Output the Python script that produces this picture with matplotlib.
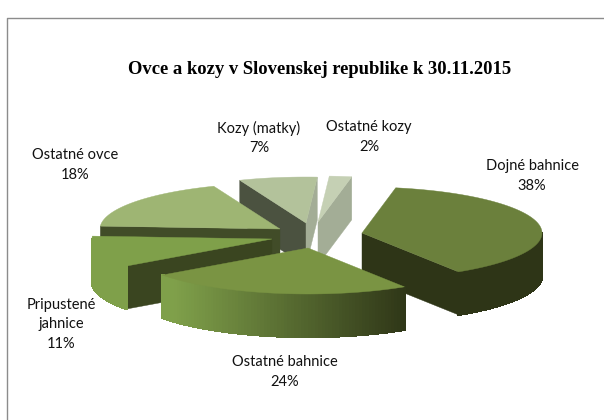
import numpy as np
import matplotlib
matplotlib.use("Agg")
import matplotlib.pyplot as plt
from matplotlib.collections import PolyCollection

title = "Ovce a kozy v Slovenskej republike k 30.11.2015"
categories = ["Dojné bahnice", "Ostatné bahnice", "Pripustené\njahnice",
              "Ostatné ovce", "Kozy (matky)", "Ostatné kozy"]
values = [38, 24, 11, 18, 7, 2]

# styles / geometry
top_colors = ["#6b803c", "#7a9443", "#7fa04a", "#9eb573", "#b3c29b", "#c5d0b4"]
wall_colors = ["#2e3517", "#3a4520", "#3a4520", "#414c28", "#4b5240", "#a3ad96"]
wall2_colors = ["#2e3517", "#3a4520", "#3a4520", "#414c28", "#a3ad96", "#a3ad96"]
offsets = [(44, -2), (-10, 13), (-46, 4), (-38, -6), (-12, -12), (0, -13)]
label_xy = [(532, 176), (285, 372), (61, 324), (75, 165), (259, 138), (369, 137)]
CX, CY, RX, RY, DEPTH = 318, 235, 180, 46, 43
START = 79.2
draw_order = [5, 4, 3, 2, 0, 1]

fig = plt.figure(figsize=(6.04, 4.20), dpi=100)
ax = fig.add_axes([0, 0, 1, 1])
ax.set_xlim(0, 604)
ax.set_ylim(420, 0)
ax.axis("off")
ax.plot([7, 7, 604], [420, 18, 18], color="#8c8c8c", lw=1.0)

def mix(a, b, f):
    a, b = np.array(matplotlib.colors.to_rgb(a)), np.array(matplotlib.colors.to_rgb(b))
    return tuple(a + (b - a) * f)

def P(cx, cy, t):
    r = np.radians(t)
    return cx + RX * np.cos(r), cy - RY * np.sin(r)

spans = np.array(values) / sum(values) * 360
starts = START - np.concatenate([[0], np.cumsum(spans)[:-1]])
light = ("#7fa04a", "#2e3517")

for i in draw_order:
    ta, tb = starts[i], starts[i] - spans[i]
    cx, cy = CX + offsets[i][0], CY + offsets[i][1]
    ts = np.linspace(ta, tb, 80)
    rim = np.array([P(cx, cy, t) for t in ts])
    if np.sin(np.radians(ta + 90)) < 0:
        p = P(cx, cy, ta)
        ax.fill([cx, p[0], p[0], cx], [cy, p[1], p[1] + DEPTH, cy + DEPTH],
                color=wall_colors[i], lw=0.3)
    if np.sin(np.radians(tb - 90)) < 0:
        p = P(cx, cy, tb)
        ax.fill([cx, p[0], p[0], cx], [cy, p[1], p[1] + DEPTH, cy + DEPTH],
                color=wall2_colors[i], lw=0.3)
    quads, cols = [], []
    for a, b in zip(ts[:-1], ts[1:]):
        if np.sin(np.radians((a + b) / 2)) < 0:
            pa, pb = P(cx, cy, a), P(cx, cy, b)
            quads.append([pa, pb, (pb[0], pb[1] + DEPTH), (pa[0], pa[1] + DEPTH)])
            f = np.clip((np.cos(np.radians((a + b) / 2)) + 0.75) / 1.3, 0, 1)
            cols.append(mix(*light, f))
    if quads:
        ax.add_collection(PolyCollection(quads, facecolors=cols, edgecolors=cols,
                                         linewidths=1.0, antialiaseds=False))
    ax.fill(np.r_[cx, rim[:, 0]], np.r_[cy, rim[:, 1]], color=top_colors[i], lw=0.3)

for c, v, (x, y) in zip(categories, values, label_xy):
    ax.text(x, y, f"{c}\n{v}%", ha="center", va="center", fontsize=10.5,
            family="Lato", color="#111111", linespacing=1.5)
ax.text(320, 69, title, ha="center", va="center", fontsize=13.4, fontweight="bold",
        family="Liberation Serif", color="black")
fig.savefig("out.png", dpi=100)
